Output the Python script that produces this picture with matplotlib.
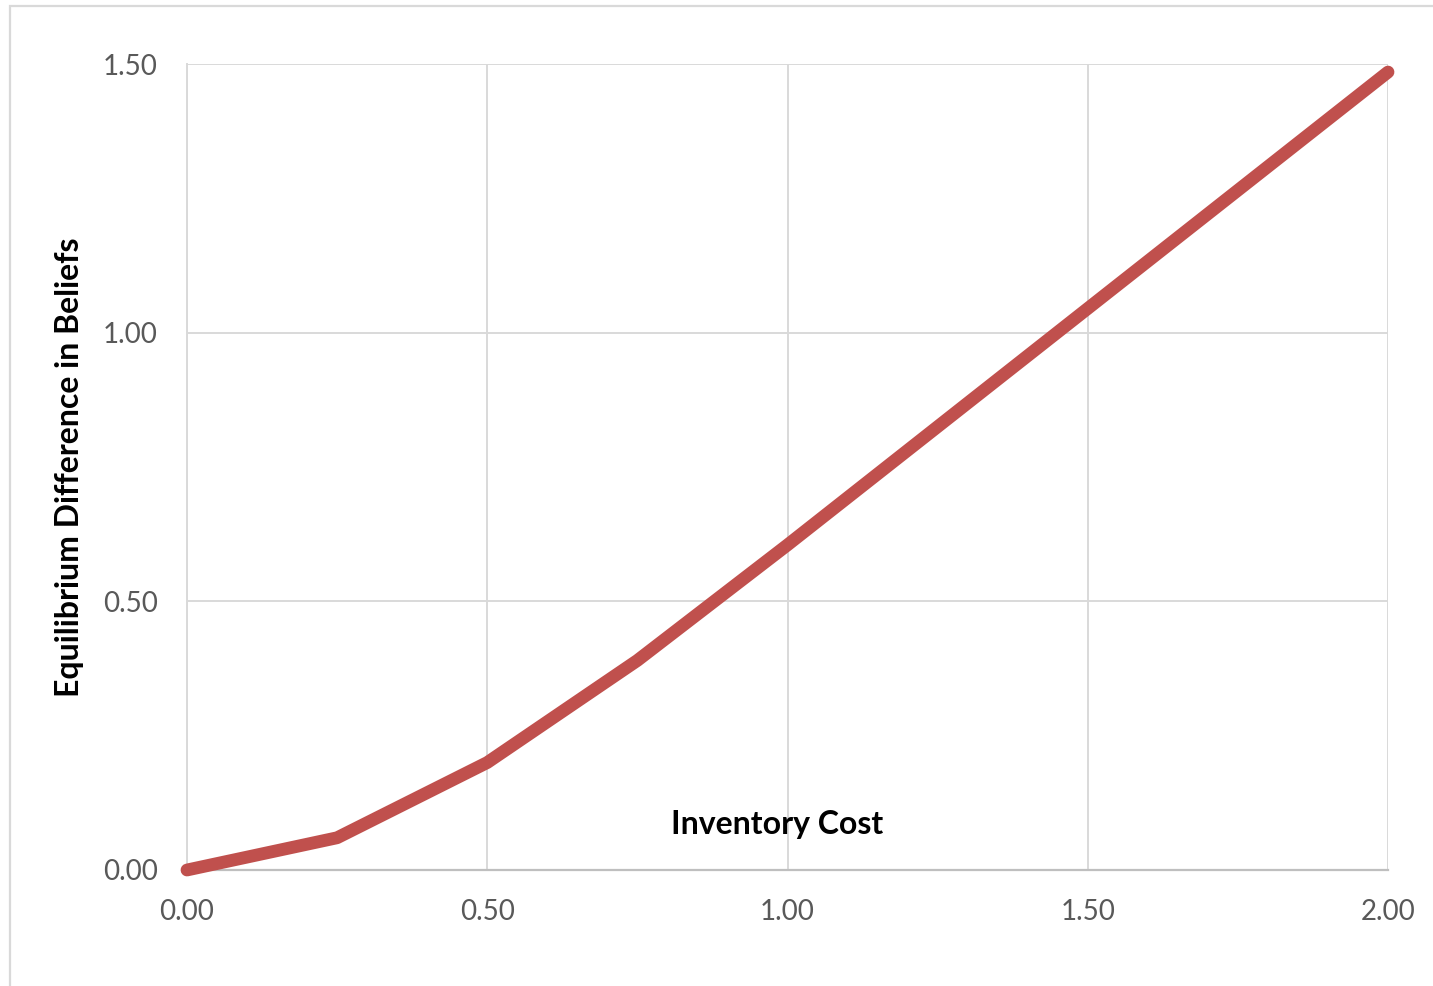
import matplotlib
matplotlib.use("Agg")
import matplotlib.pyplot as plt
from matplotlib.patches import Rectangle

# Equilibrium belief gap as a function of inventory cost
inventory_cost = [0.00, 0.25, 0.50, 0.75, 1.00, 1.25, 1.50, 1.75, 2.00]
belief_difference = [0.00, 0.06, 0.20, 0.39, 0.605, 0.825, 1.045, 1.265, 1.485]

x_ticks = [0.0, 0.5, 1.0, 1.5, 2.0]
y_ticks = [0.0, 0.5, 1.0, 1.5]

plt.rcParams["font.family"] = ["Lato", "DejaVu Sans"]

W, H = 1433, 986
fig = plt.figure(figsize=(W / 100, H / 100), dpi=100)
ax = fig.add_axes([187 / W, 1 - 870 / H, (1388 - 187) / W, (870 - 64) / H])

ax.plot(inventory_cost, belief_difference, color="#C0504D", lw=9.2,
        solid_capstyle="round", solid_joinstyle="round", zorder=3, clip_on=False)

ax.set_xlim(0, 2.0)
ax.set_ylim(0, 1.5)
ax.set_xticks(x_ticks)
ax.set_yticks(y_ticks)
ax.set_xticklabels([f"{v:.2f}" for v in x_ticks])
ax.set_yticklabels([f"{v:.2f}" for v in y_ticks])
ax.tick_params(length=0, labelsize=20, labelcolor="#595959")
ax.tick_params(axis="x", pad=21)
ax.tick_params(axis="y", pad=21)

ax.grid(True, color="#D9D9D9", lw=1.4, zorder=0)
ax.set_axisbelow(True)
for side in ("top", "right"):
    ax.spines[side].set_visible(False)
ax.spines["bottom"].set_color("#BFBFBF")
ax.spines["bottom"].set_linewidth(1.6)
ax.spines["left"].set_color("#D9D9D9")
ax.spines["left"].set_linewidth(1.4)

ax.set_ylabel("Equilibrium Difference in Beliefs", fontsize=23, fontweight="bold",
              color="black", labelpad=14)
ax.text(0.9825, 0.084, "Inventory Cost", transform=ax.transData, fontsize=23,
        fontweight="bold", color="black", ha="center", va="center")

# Chart-area border
fig.patches.append(Rectangle((10 / W, -0.05), 1.2, 1 - 6 / H + 0.05,
                             transform=fig.transFigure, fill=False,
                             edgecolor="#D9D9D9", lw=1.6))

fig.savefig("out.png", dpi=100, facecolor="white")
